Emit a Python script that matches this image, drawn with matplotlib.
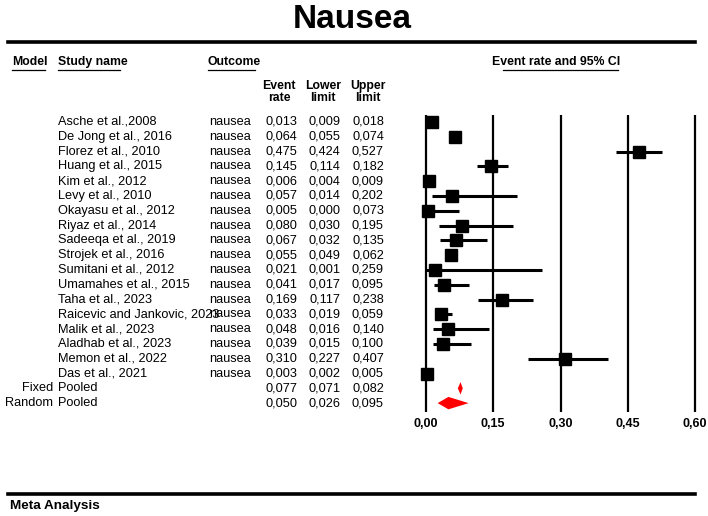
import matplotlib
matplotlib.use("Agg")
import matplotlib.pyplot as plt
from matplotlib import transforms
from matplotlib.lines import Line2D

# study level data
studies = [
    "Asche et al.,2008", "De Jong et al., 2016", "Florez et al., 2010",
    "Huang et al., 2015", "Kim et al., 2012", "Levy et al., 2010",
    "Okayasu et al., 2012", "Riyaz et al., 2014", "Sadeeqa et al., 2019",
    "Strojek et al., 2016", "Sumitani et al., 2012", "Umamahes et al., 2015",
    "Taha et al., 2023", "Raicevic and Jankovic, 2023", "Malik et al., 2023",
    "Aladhab et al., 2023", "Memon et al., 2022", "Das et al., 2021",
]
event_rate = [0.013, 0.064, 0.475, 0.145, 0.006, 0.057, 0.005, 0.080, 0.067,
              0.055, 0.021, 0.041, 0.169, 0.033, 0.048, 0.039, 0.310, 0.003]
lower = [0.009, 0.055, 0.424, 0.114, 0.004, 0.014, 0.000, 0.030, 0.032,
         0.049, 0.001, 0.017, 0.117, 0.019, 0.016, 0.015, 0.227, 0.002]
upper = [0.018, 0.074, 0.527, 0.182, 0.009, 0.202, 0.073, 0.195, 0.135,
         0.062, 0.259, 0.095, 0.238, 0.059, 0.140, 0.100, 0.407, 0.005]
outcome = "nausea"

# pooled estimates
pooled_models = ["Fixed", "Random"]
pooled_rate = [0.077, 0.050]
pooled_lower = [0.071, 0.026]
pooled_upper = [0.082, 0.095]

xticks = [0.0, 0.15, 0.30, 0.45, 0.60]

W, H = 708, 516
FONT = ["Liberation Sans", "DejaVu Sans"]

fig = plt.figure(figsize=(W / 100, H / 100), dpi=100)


def fx(px):
    return px / W


def fy(py):
    return 1 - py / H


# forest plot axes: x=0 at 426px, x=0.6 at 695px; rows from 115px to 412px
row_top, row_bot = -0.47, 19.6
ax = fig.add_axes([fx(426), fy(412), fx(695) - fx(426), (412 - 115) / H])
ax.set_xlim(0, 0.6)
ax.set_ylim(row_bot, row_top)
for s in ax.spines.values():
    s.set_visible(False)
ax.set_yticks([])
ax.set_xticks(xticks)
ax.set_xticklabels([f"{t:.2f}".replace(".", ",") for t in xticks],
                   fontweight="bold", fontsize=9, family=FONT)
ax.tick_params(axis="x", length=0, pad=4)

ax.vlines(xticks, row_top, row_bot, color="black", lw=1.6, clip_on=False)

rows = list(range(len(studies)))
ax.hlines(rows, lower, upper, color="black", lw=2.2, clip_on=False, zorder=3)
ax.plot(event_rate, rows, "s", color="black", ms=8.7, clip_on=False, zorder=4)

# pooled diamonds
for i, (m, lo, hi) in enumerate(zip(pooled_rate, pooled_lower, pooled_upper)):
    r = len(studies) + i
    ax.fill([lo, m, hi, m], [r, r - 0.42, r, r + 0.42], color="#ff0000",
            lw=0, clip_on=False, zorder=4)

# table text: x in figure coords, y in row units
tr = transforms.blended_transform_factory(fig.transFigure, ax.transData)
fs = 9.2
fmt = lambda v: f"{v:.3f}".replace(".", ",")


def row_text(x, r, s, ha="left"):
    fig.text(fx(x), r, s, transform=tr, fontsize=fs, family=FONT, va="center", ha=ha)


for i, name in enumerate(studies):
    row_text(58, i, name)
    row_text(209, i, outcome)
    row_text(281, i, fmt(event_rate[i]), "center")
    row_text(324.5, i, fmt(lower[i]), "center")
    row_text(368, i, fmt(upper[i]), "center")
for i, model in enumerate(pooled_models):
    r = len(studies) + i
    row_text(53, r, model, "right")
    row_text(58, r, "Pooled")
    row_text(281, r, fmt(pooled_rate[i]), "center")
    row_text(324.5, r, fmt(pooled_lower[i]), "center")
    row_text(368, r, fmt(pooled_upper[i]), "center")

# title and rules
fig.text(fx(352), fy(20), "Nausea", fontsize=24, fontweight="bold", family=FONT,
         ha="center", va="center")
fig.add_artist(Line2D([fx(8), fx(695)], [fy(42), fy(42)], color="black", lw=2.6))
fig.add_artist(Line2D([fx(8), fx(695)], [fy(494), fy(494)], color="black", lw=2.6))
fig.text(fx(10), fy(506), "Meta Analysis", fontsize=9.7, fontweight="bold", family=FONT,
         va="center")

# column headers with underlines
headers = [("Model", 12, 12, 45), ("Study name", 58, 58, 120), ("Outcome", 208, 208, 255),
           ("Event rate and 95% CI", 492, 503, 618)]
for label, x, u0, u1 in headers:
    fig.text(fx(x), fy(62), label, fontsize=8.8, fontweight="bold", family=FONT, va="center")
    fig.add_artist(Line2D([fx(u0), fx(u1)], [fy(70), fy(70)], color="black", lw=0.9))

for label, x in [("Event\nrate", 279), ("Lower\nlimit", 323), ("Upper\nlimit", 368)]:
    fig.text(fx(x), fy(92), label, fontsize=8.8, fontweight="bold", family=FONT,
             ha="center", va="center", linespacing=1.05)

fig.savefig("out.png", dpi=100)
